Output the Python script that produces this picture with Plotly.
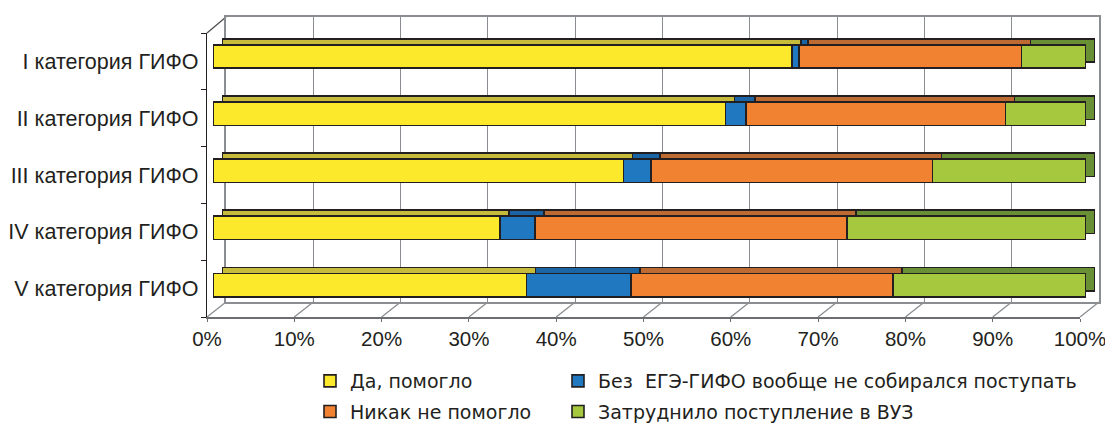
import plotly.graph_objects as go

WIN_W, WIN_H = 1113, 433
PAGE_PAD = 8  # default body margin of the html page
W, H = WIN_W - 2 * PAGE_PAD, WIN_H - 2 * PAGE_PAD

categories = ["I категория ГИФО", "II категория ГИФО", "III категория ГИФО",
              "IV категория ГИФО", "V категория ГИФО"]
series_names = ["Да, помогло", "Без  ЕГЭ-ГИФО вообще не собирался поступать",
                "Никак не помогло", "Затруднило поступление в ВУЗ"]
yes_helped = [66.3, 58.7, 47.0, 32.9, 35.9]
no_intent = [0.8, 2.35, 3.2, 4.0, 12.0]
not_helped = [25.5, 29.75, 32.2, 35.7, 30.0]
hindered = [7.4, 9.2, 17.6, 27.4, 22.1]
tick_values = [0.0, 0.1, 0.2, 0.3, 0.4, 0.5, 0.6, 0.7, 0.8, 0.9, 1.0]
tick_labels = ["0%", "10%", "20%", "30%", "40%", "50%", "60%", "70%", "80%", "90%", "100%"]

front_colors = ["#fde92b", "#1f78c0", "#f08232", "#a5c83e"]
top_colors = ["#c6bb3a", "#1b64a6", "#bd6a33", "#6a9036"]
legend_ids = ["legend", "legend2", "legend", "legend2"]
series_values = [yes_helped, no_intent, not_helped, hindered]

FONT = "Liberation Sans, Arial, sans-serif"
LFONT = "DejaVu Sans, sans-serif"
TXT = "#231f20"
GRID = "#8a8d91"


def fx(px):
    return (px - PAGE_PAD) / W


def fy(py):
    return 1 - (py - PAGE_PAD) / H


fig = go.Figure()

# empty traces so that the wall and front-axis subplots are drawn
fig.add_trace(go.Scatter(x=[None], y=[None], xaxis="x", yaxis="y",
                         showlegend=False, hoverinfo="skip"))

# top faces (offset layer) -> subplot x2/y2
for name, vals, col in zip(series_names, series_values, top_colors):
    fig.add_trace(go.Bar(
        y=categories, x=[v / 100 for v in vals], orientation="h",
        marker=dict(color=col, line=dict(color=TXT, width=1.6)),
        xaxis="x2", yaxis="y2", showlegend=False, hoverinfo="skip"))

# front faces -> subplot x3/y3
for name, vals, col, lg in zip(series_names, series_values, front_colors, legend_ids):
    fig.add_trace(go.Bar(
        y=categories, x=[v / 100 for v in vals], orientation="h", name=name,
        marker=dict(color=col, line=dict(color=TXT, width=1.6)),
        xaxis="x3", yaxis="y3", legend=lg, legendgroup=name))

fig.add_trace(go.Scatter(x=[None], y=[None], xaxis="x4", yaxis="y4",
                         showlegend=False, hoverinfo="skip"))

dx, dy = 9, 6
bar_left, bar_right = 213, 1086
bar_top, bar_bottom = 28, 313.6

cat_range = [len(categories) - 0.5, -0.5]

fig.update_layout(
    width=W, height=H, margin=dict(l=0, r=0, t=0, b=0, autoexpand=False),
    paper_bgcolor="white", plot_bgcolor="rgba(0,0,0,0)",
    barmode="stack", bargap=0.59,
    font=dict(family=FONT, color=TXT, size=20),
    # back wall
    xaxis=dict(domain=[fx(226), fx(1099)], range=[0, 1], anchor="y",
               tickvals=tick_values, showticklabels=False, ticks="",
               showgrid=True, gridcolor=GRID, gridwidth=1.3, zeroline=False,
               showline=True, mirror=True, linecolor=GRID, linewidth=1.5),
    yaxis=dict(domain=[fy(302), fy(17)], range=[0, 1], anchor="x",
               showticklabels=False, showgrid=False, zeroline=False, ticks="",
               showline=True, mirror=True, linecolor=GRID, linewidth=1.5),
    # top-face layer
    xaxis2=dict(domain=[fx(bar_left + dx), fx(bar_right + dx)], range=[0, 1], anchor="y2",
                visible=False),
    yaxis2=dict(domain=[fy(bar_bottom - dy), fy(bar_top - dy)], type="category",
                categoryarray=categories, range=cat_range, anchor="x2", visible=False),
    # front-face layer
    xaxis3=dict(domain=[fx(bar_left), fx(bar_right)], range=[0, 1], anchor="y3",
                visible=False),
    yaxis3=dict(domain=[fy(bar_bottom), fy(bar_top)], type="category",
                categoryarray=categories, range=cat_range, anchor="x3", visible=False),
    # front axes
    xaxis4=dict(domain=[fx(207), fx(1080)], range=[0, 1], anchor="y4",
                tickvals=tick_values, ticktext=tick_labels, ticks="outside",
                ticklen=3, tickcolor="#6d6e71", showgrid=False, zeroline=False,
                showline=True, linecolor="#6d6e71", linewidth=1.5,
                ticklabeloverflow="allow", automargin=False,
                tickfont=dict(family=FONT, size=20.5, color=TXT)),
    yaxis4=dict(domain=[fy(317), fy(33)], range=[len(categories) - 0.5, -0.5],
                anchor="x4", tickvals=list(range(len(categories))), ticktext=categories,
                ticks="", showgrid=False, zeroline=False, showline=True,
                linecolor=TXT, linewidth=1.3, ticklabelstandoff=3, automargin=False,
                minor=dict(tickvals=[i - 0.5 for i in range(len(categories) + 1)],
                           ticks="outside", ticklen=5, tickcolor=TXT, tickwidth=1.2),
                tickfont=dict(family=FONT, size=21.5, color=TXT)),
    legend=dict(x=fx(310), y=fy(362), xanchor="left", yanchor="top",
                orientation="v", traceorder="grouped", tracegroupgap=3,
                font=dict(family=LFONT, size=19, color=TXT), bgcolor="rgba(0,0,0,0)"),
    legend2=dict(x=fx(558), y=fy(362), xanchor="left", yanchor="top",
                 orientation="v", traceorder="grouped", tracegroupgap=3,
                 font=dict(family=LFONT, size=19, color=TXT), bgcolor="rgba(0,0,0,0)"),
)

shapes = []
for v in tick_values:
    shapes.append(dict(type="line", xref="paper", yref="paper", layer="below",
                       x0=fx(207 + 873 * v), y0=fy(317), x1=fx(226 + 873 * v), y1=fy(302),
                       line=dict(color=GRID, width=1.3)))
shapes.append(dict(type="line", xref="paper", yref="paper", layer="below",
                   x0=fx(207), y0=fy(33), x1=fx(226), y1=fy(17),
                   line=dict(color="#4d4d4f", width=1.3)))
fig.update_layout(shapes=shapes)

fig.write_html("out.html")
